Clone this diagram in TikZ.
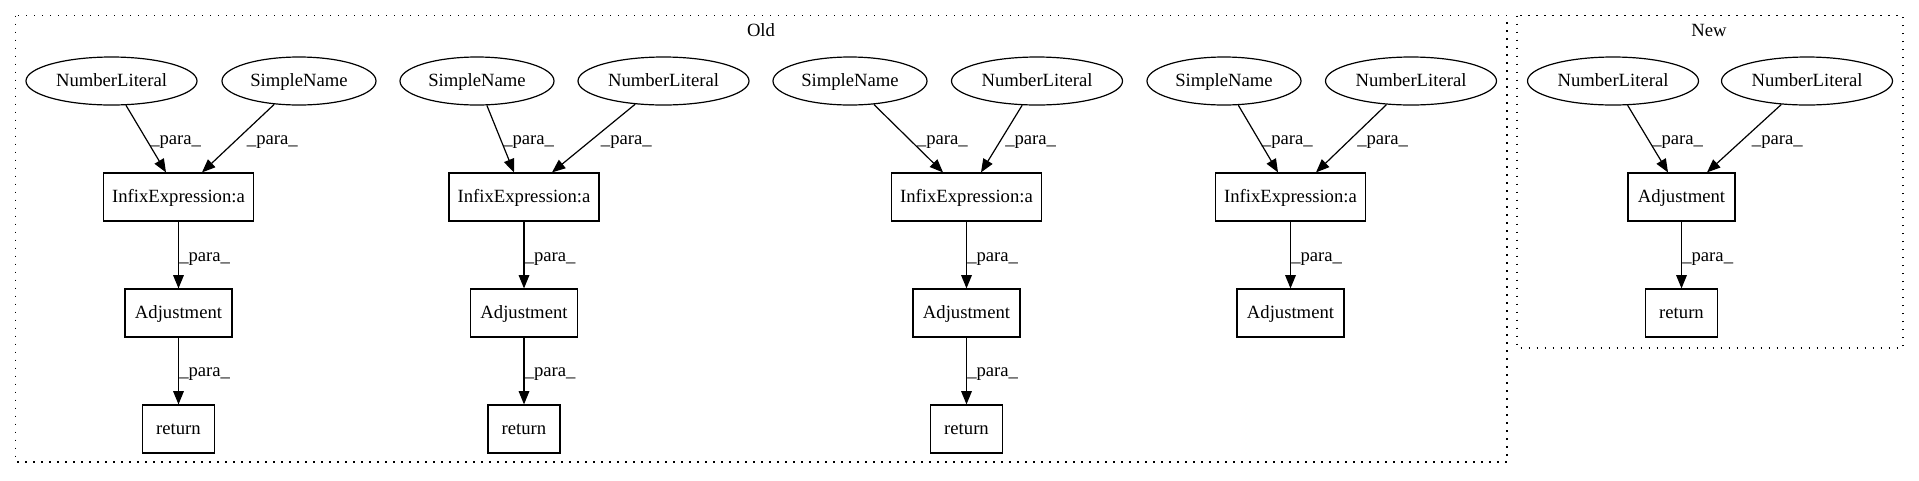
\documentclass[tikz,border=0pt]{standalone}
\usepackage{fontspec}
\setmainfont{Liberation Serif}
\usetikzlibrary{arrows.meta,calc,shapes.geometric}
\begin{document}
\begin{tikzpicture}[x=0.75pt,y=-0.75pt,
  every node/.style={font=\fontsize{14pt}{16pt}\selectfont, inner sep=0pt, text height=10pt, text depth=1.4pt},
  ell/.style={draw, ellipse, line width=0.9pt, minimum height=36pt},
  nlw/.style={ell, minimum width=128.25pt},
  snw/.style={ell, minimum width=115.5pt},
  box/.style={draw, rectangle, line width=0.9pt, minimum height=36pt},
  infw/.style={box, minimum width=112.5pt},
  adjw/.style={box, minimum width=80.25pt},
  retw/.style={box, minimum width=54pt},
  edge/.style={draw, line width=0.9pt, -{Triangle[length=10pt,width=8pt]}},
  lbl/.style={anchor=base west},
  cluster/.style={draw, line width=1pt, dash pattern=on 1pt off 5pt},
]
\useasboundingbox (0,0) rectangle (1919,480);
% clusters
\draw[cluster] (15.7,15.7) rectangle (1507,462);
\draw[cluster] (1517,15.7) rectangle (1903,348);
\node[anchor=base] (oldlbl) at (761,36) {Old};
\node[anchor=base] (newlbl) at (1709,36) {New};

% group A
\node[nlw] (nlA) at (111.5,81) {NumberLiteral};
\node[snw] (snA) at (299,81) {SimpleName};
\node[infw] (infA) at (178.5,197) {InfixExpression:a};
\node[adjw] (adjA) at (178.5,313) {Adjustment};
\node[retw] (retA) at (178.5,429) {return};
% group B
\node[snw] (snB) at (477,81) {SimpleName};
\node[nlw] (nlB) at (663.5,81) {NumberLiteral};
\node[infw] (infB) at (524,197) {InfixExpression:a};
\node[adjw] (adjB) at (524,313) {Adjustment};
\node[retw] (retB) at (524,429) {return};
% group C
\node[snw] (snC) at (850,81) {SimpleName};
\node[nlw] (nlC) at (1037,81) {NumberLiteral};
\node[infw] (infC) at (966.5,197) {InfixExpression:a};
\node[adjw] (adjC) at (966.5,313) {Adjustment};
\node[retw] (retC) at (966.5,429) {return};
% group D
\node[snw] (snD) at (1224,81) {SimpleName};
\node[nlw] (nlD) at (1411,81) {NumberLiteral};
\node[infw] (infD) at (1290.5,197) {InfixExpression:a};
\node[adjw] (adjD) at (1290.5,313) {Adjustment};
% new
\node[nlw] (nlN1) at (1613,81) {NumberLiteral};
\node[nlw] (nlN2) at (1807,81) {NumberLiteral};
\node[adjw] (adjN) at (1681.5,197) {Adjustment};
\node[retw] (retN) at (1681.5,313) {return};

% edges
\draw[edge] (nlA) -- ($(infA.north)+(-12.5,0)$);
\draw[edge] (snA) -- ($(infA.north)+(23.5,0)$);
\draw[edge] (infA) -- (adjA);
\draw[edge] (adjA) -- (retA);
\draw[edge] (snB) -- ($(infB.north)+(-10,0)$);
\draw[edge] (nlB) -- ($(infB.north)+(28,0)$);
\draw[edge] (infB) -- (adjB);
\draw[edge] (adjB) -- (retB);
\draw[edge] (snC) -- ($(infC.north)+(-23.5,0)$);
\draw[edge] (nlC) -- ($(infC.north)+(14.5,0)$);
\draw[edge] (infC) -- (adjC);
\draw[edge] (adjC) -- (retC);
\draw[edge] (snD) -- ($(infD.north)+(-12.5,0)$);
\draw[edge] (nlD) -- ($(infD.north)+(25.5,0)$);
\draw[edge] (infD) -- (adjD);
\draw[edge] (nlN1) -- ($(adjN.north)+(-13.5,0)$);
\draw[edge] (nlN2) -- ($(adjN.north)+(25.5,0)$);
\draw[edge] (adjN) -- (retN);

% edge labels
\node[lbl] (lA1) at (150,144.5) {\_para\_};
\node[lbl] (lA2) at (246.7,144.5) {\_para\_};
\node[lbl] (lA3) at (179,261) {\_para\_};
\node[lbl] (lA4) at (179,376) {\_para\_};
\node[lbl] (lB1) at (503,144.5) {\_para\_};
\node[lbl] (lB2) at (600.7,144.5) {\_para\_};
\node[lbl] (lB3) at (524.5,261) {\_para\_};
\node[lbl] (lB4) at (524.5,376) {\_para\_};
\node[lbl] (lC1) at (916.7,144.5) {\_para\_};
\node[lbl] (lC2) at (1005,144.5) {\_para\_};
\node[lbl] (lC3) at (967,261) {\_para\_};
\node[lbl] (lC4) at (967,376) {\_para\_};
\node[lbl] (lD1) at (1261.7,144.5) {\_para\_};
\node[lbl] (lD2) at (1357,144.5) {\_para\_};
\node[lbl] (lD3) at (1291,261) {\_para\_};
\node[lbl] (lN1) at (1652,144.5) {\_para\_};
\node[lbl] (lN2) at (1751.7,144.5) {\_para\_};
\node[lbl] (lN3) at (1682,261) {\_para\_};
\end{tikzpicture}
\end{document}
